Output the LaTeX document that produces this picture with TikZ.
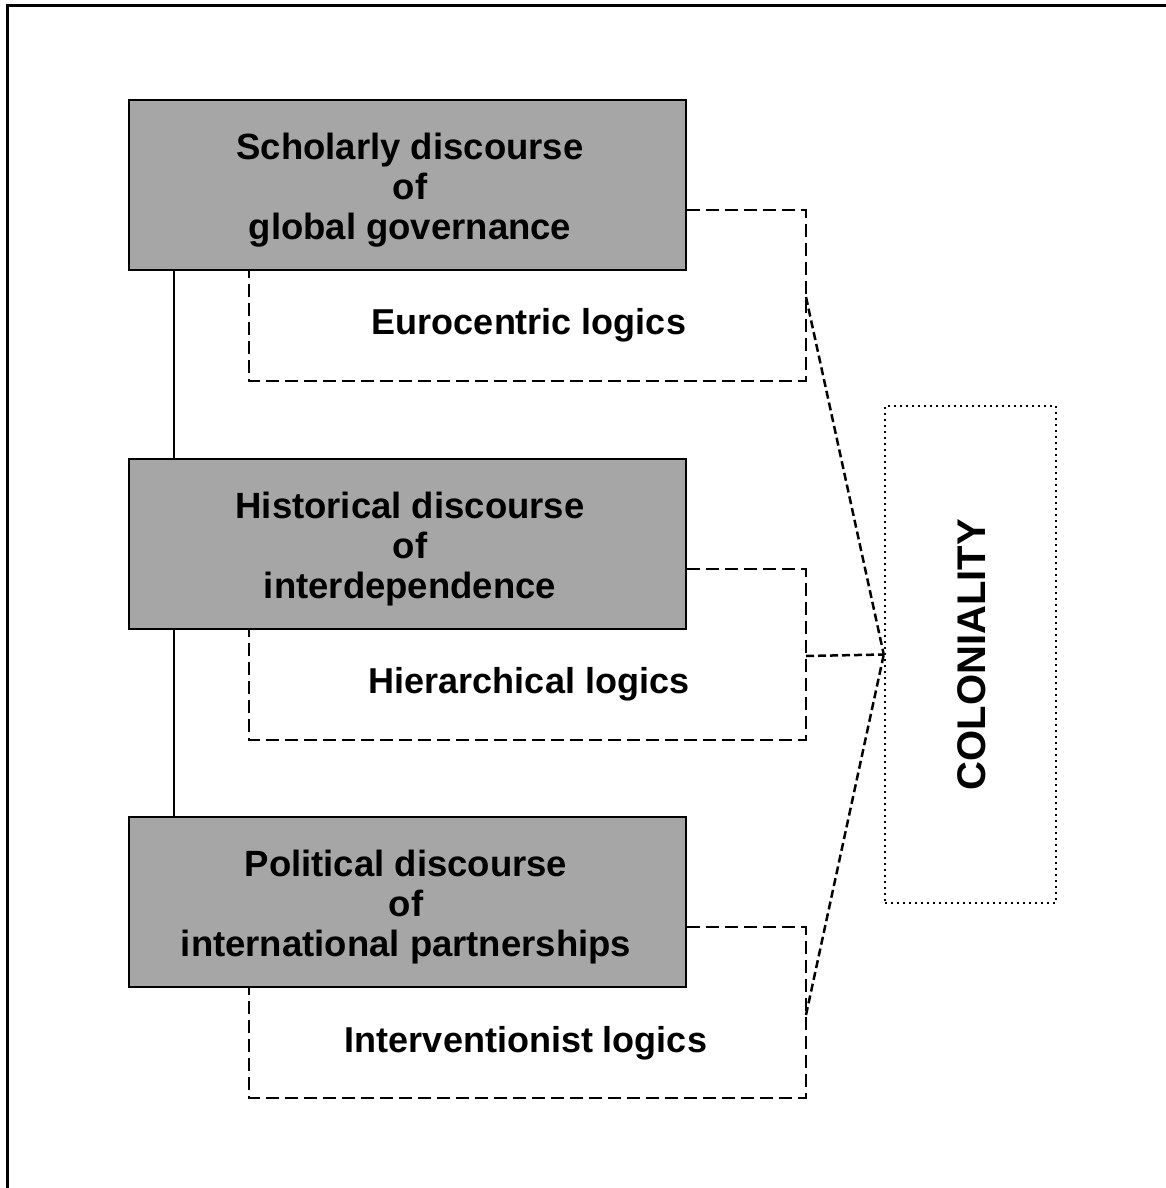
\documentclass[tikz,border=0pt]{standalone}
\usepackage{fontspec}
\setmainfont{Liberation Sans}
\begin{document}
\begin{tikzpicture}[x=1pt,y=-1pt,
  graybox/.style={draw=black,line width=2.5pt,fill=black!35,minimum width=557pt,minimum height=170pt,inner sep=0pt},
  boxtext/.style={inner sep=0pt,align=center,font=\fontsize{36.5}{40}\selectfont\bfseries},
  logiclabel/.style={inner sep=0pt,font=\fontsize{36}{40}\selectfont\bfseries},
  dashbox/.style={line width=2.5pt,dash pattern=on 13pt off 6pt},
  dashlink/.style={line width=2.5pt,dash pattern=on 8pt off 4pt},
  colbox/.style={draw=black,line width=2.5pt,dash pattern=on 2pt off 4pt,minimum width=171pt,minimum height=497pt,inner sep=0pt}]
\useasboundingbox (0,0) rectangle (1166,1188);
% frame
\draw[line width=3pt] (7,1188) -- (7,6) -- (1166,6);
% gray boxes
\node[graybox] (b1) at (407.5,185) {};
\node[graybox] (b2) at (407.5,544) {};
\node[graybox] (b3) at (407.5,902) {};
\node[boxtext] (b1t) at (410,190) {Scholarly discourse\\of\\global governance};
\node[boxtext] (b2t) at (410,549) {Historical discourse\\of\\interdependence};
\node[boxtext] (b3t) at (406,907) {Political discourse\\of\\international partnerships};
% solid vertical links
\draw[line width=2.5pt] ([xshift=-233.5pt]b1.south) -- ([xshift=-233.5pt]b2.north);
\draw[line width=2.5pt] ([xshift=-233.5pt]b2.south) -- ([xshift=-233.5pt]b3.north);
% dashed logic boxes
\draw[dashbox] ([yshift=-25pt]b1.east) -| (806,381) -| ([xshift=-158.5pt]b1.south);
\draw[dashbox] ([yshift=-25pt]b2.east) -| (806,740) -| ([xshift=-158.5pt]b2.south);
\draw[dashbox] ([yshift=-25pt]b3.east) -| (806,1098) -| ([xshift=-158.5pt]b3.south);
\node[logiclabel] (l1) at (529,325) {Eurocentric logics};
\node[logiclabel] (l2) at (529,684) {Hierarchical logics};
\node[logiclabel] (l3) at (526,1043) {Interventionist logics};
% coloniality
\node[colbox] (c) at (970.5,654.5) {};
\node[rotate=90,inner sep=0pt,font=\fontsize{40}{44}\selectfont\bfseries] (ct) at (972,654.5) {COLONIALITY};
\coordinate (t1) at (806,297);
\coordinate (t2) at (806,656);
\coordinate (t3) at (806,1015);
\draw[dashlink] (t1) -- (c.west);
\draw[dashlink] (t2) -- (c.west);
\draw[dashlink] (t3) -- (c.west);
\end{tikzpicture}
\end{document}
